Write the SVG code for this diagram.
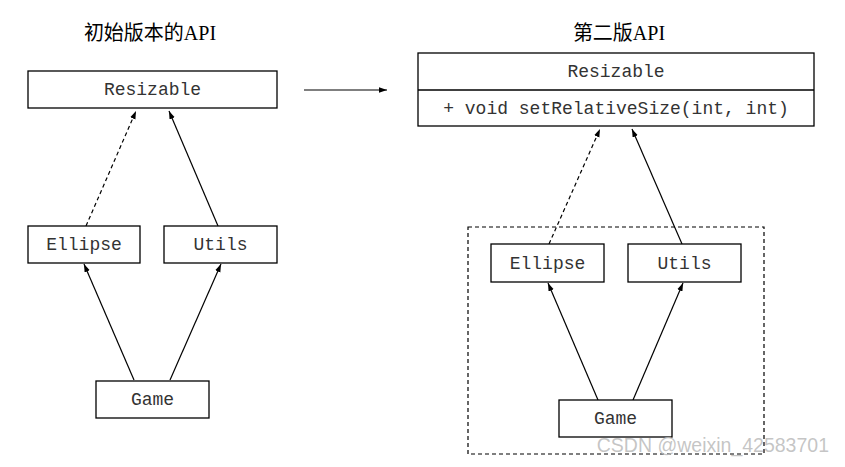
<svg xmlns="http://www.w3.org/2000/svg" width="845" height="467" viewBox="0 0 845 467">
<style>
.box{fill:#fff;stroke:#000;stroke-width:1.3}
.mono{font-family:"Liberation Mono","DejaVu Sans Mono",monospace;font-size:18px;fill:#333;text-anchor:middle}
.title{font-family:"Liberation Serif","Noto Sans CJK SC",serif;font-size:20px;fill:#000;text-anchor:middle}
.c{stroke:#000;stroke-width:1.2;fill:none}
.d{stroke-dasharray:4,3}
</style>
<defs>
<marker id="ah" viewBox="0 0 10 10" refX="10" refY="5" markerWidth="8" markerHeight="8" markerUnits="userSpaceOnUse" orient="auto">
<path d="M0,1.5 L10,5 L0,8.5 Z" fill="#000"/>
</marker>
</defs>
<rect width="845" height="467" fill="#fff"/>
<text class="title" x="150" y="40">初始版本的API</text>
<text class="title" x="619" y="40">第二版API</text>

<g id="container">
<rect x="468" y="227" width="296" height="227" fill="none" stroke="#000" stroke-width="1.2" stroke-dasharray="4,3"/>
</g>

<g id="connectors">
<line class="c" x1="304" y1="90" x2="387" y2="90" marker-end="url(#ah)"/>
<line class="c d" x1="86" y1="226" x2="136" y2="111" marker-end="url(#ah)"/>
<line class="c" x1="218" y1="226" x2="169" y2="111" marker-end="url(#ah)"/>
<line class="c" x1="134" y1="380" x2="84" y2="264" marker-end="url(#ah)"/>
<line class="c" x1="170" y1="380" x2="221" y2="264" marker-end="url(#ah)"/>
<line class="c d" x1="549" y1="244" x2="600" y2="129" marker-end="url(#ah)"/>
<line class="c" x1="682" y1="244" x2="632" y2="129" marker-end="url(#ah)"/>
<line class="c" x1="598" y1="400" x2="548" y2="283" marker-end="url(#ah)"/>
<line class="c" x1="633" y1="400" x2="683" y2="283" marker-end="url(#ah)"/>
</g>

<g id="resizable1">
<rect class="box" x="28" y="71" width="249" height="37"/>
<text class="mono" x="152.5" y="95">Resizable</text>
</g>
<g id="ellipse1">
<rect class="box" x="28" y="226" width="112" height="37"/>
<text class="mono" x="84" y="250">Ellipse</text>
</g>
<g id="utils1">
<rect class="box" x="164" y="226" width="113" height="37"/>
<text class="mono" x="220.5" y="250">Utils</text>
</g>
<g id="game1">
<rect class="box" x="96" y="381" width="113" height="37"/>
<text class="mono" x="152.5" y="405">Game</text>
</g>

<g id="resizable2">
<rect class="box" x="418" y="53" width="396" height="73"/>
<line x1="418" y1="90" x2="814" y2="90" stroke="#000" stroke-width="1.3"/>
<text class="mono" x="616" y="77">Resizable</text>
<text class="mono" x="616" y="114">+ void setRelativeSize(int, int)</text>
</g>
<g id="ellipse2">
<rect class="box" x="491" y="244" width="113" height="38"/>
<text class="mono" x="547.5" y="269">Ellipse</text>
</g>
<g id="utils2">
<rect class="box" x="628" y="244" width="113" height="38"/>
<text class="mono" x="684.5" y="269">Utils</text>
</g>
<g id="game2">
<rect class="box" x="559" y="400" width="113" height="37"/>
<text class="mono" x="615.5" y="424">Game</text>
</g>

<text x="829" y="452" font-family="Liberation Sans, Arial, sans-serif" font-size="19.5" fill="#bbb" fill-opacity="0.85" text-anchor="end">CSDN @weixin_42583701</text>
</svg>
